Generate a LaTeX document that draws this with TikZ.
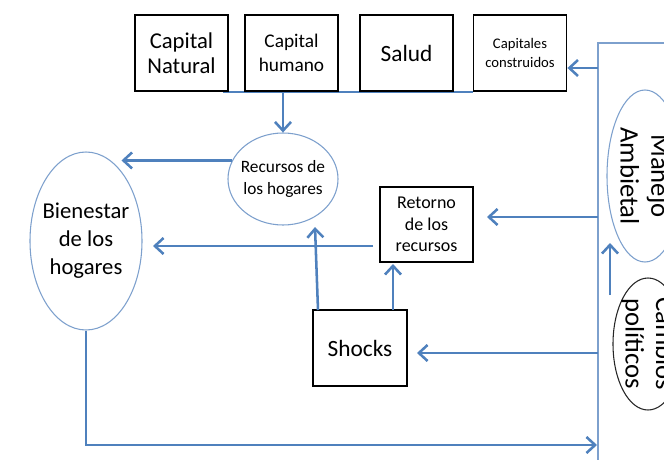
\documentclass[tikz,border=0pt]{standalone}
\usepackage{fontspec}
\setmainfont{Carlito}
\usetikzlibrary{arrows.meta,shapes.geometric}

\definecolor{lineblue}{RGB}{79,129,189}
\definecolor{paleblue}{RGB}{125,160,205}

\tikzset{
  capbox/.style={draw=black, line width=1.4pt, fill=white, minimum width=69.75pt, minimum height=57pt, align=center, inner sep=1pt},
  blueell/.style={ellipse, draw=paleblue, line width=0.8pt, inner sep=0pt},
  blackell/.style={ellipse, draw=black!85, line width=0.8pt, inner sep=0pt},
  lbl/.style={align=center, inner sep=0pt},
  arr/.style={draw=lineblue, line width=1.9pt, -{Straight Barb[length=6.5pt,width=12pt]}},
  link/.style={draw=lineblue, line width=1.9pt},
  rail/.style={draw=paleblue, line width=1.2pt},
}

\begin{document}
\begin{tikzpicture}[x=0.75pt,y=0.75pt,yscale=-1,xscale=1]
\clip (0,0) rectangle (664,460);
\fill[white] (0,0) rectangle (664,460);

%Free ends of the connectors
\coordinate (rail-top) at (598,43);
\coordinate (rail-end) at (664,43);
\coordinate (rail-bot) at (598,460);
\coordinate (rail-cap) at (598,68);
\coordinate (rail-ret) at (598,217);
\coordinate (rail-sho) at (598,353);
\coordinate (ret-in) at (487,217);
\coordinate (sho-in) at (417,353);
\coordinate (bot-in) at (597,445);
\coordinate (base-l) at (223,92);
\coordinate (base-r) at (473,92);
\coordinate (ret-out) at (373,246);
\coordinate (bien-in) at (153,246);
\coordinate (sho-a) at (318,310);
\coordinate (rec-in) at (315,227);
\coordinate (sho-b) at (393,310);
\coordinate (ret-bot) at (393,264);
\coordinate (up-s) at (610,295);
\coordinate (up-e) at (610,243);

%Rail on the right
\draw[rail] (rail-end) -- (rail-top) -- (rail-bot);
%Line under the capitals
\draw[link] (base-l) -- (base-r);

%Capitals
\node[capbox, font=\fontsize{17}{19}\selectfont] (natcap) at (181.5,53) {Capital\\Natural};
\node[capbox, font=\fontsize{14.5}{18}\selectfont] (humcap) at (291.5,53) {Capital\\humano};
\node[capbox, font=\fontsize{17.5}{20}\selectfont] (salud) at (406.5,53) {Salud};
\node[capbox, font=\fontsize{11}{14.5}\selectfont] (construidos) at (520,53) {Capitales\\construidos};

%Households
\node[blueell, minimum width=82.5pt, minimum height=69pt] (recursos) at (283,179) {};
\node[lbl, font=\fontsize{13}{16.5}\selectfont] (recursos-txt) at (recursos) {Recursos de\\los hogares};
\node[blueell, minimum width=84pt, minimum height=133.5pt] (bienestar) at (86,241) {};
\node[lbl, font=\fontsize{17}{21}\selectfont] (bienestar-txt) at (bienestar) {Bienestar\\de los\\hogares};

%Returns and shocks
\node[capbox, minimum height=56pt, font=\fontsize{13.5}{16}\selectfont] (retorno) at (426.5,224.5) {Retorno\\de los\\recursos};
\node[capbox, minimum width=70.5pt, font=\fontsize{17.5}{20}\selectfont] (shocks) at (360,348) {Shocks};

%Drivers on the right
\node[blueell, minimum width=57pt, minimum height=129pt] (manejo) at (645,176) {};
\node[lbl, rotate=-90, font=\fontsize{20}{23}\selectfont] (manejo-txt) at (manejo) {Manejo\\Ambietal};
\node[blackell, minimum width=52.5pt, minimum height=99pt] (cambios) at (648,344) {};
\node[lbl, rotate=-90, font=\fontsize{20}{23}\selectfont] (cambios-txt) at (cambios) {Cambios\\políticos};

%Connectors
\draw[arr] (recursos.north |- base-l) -- (recursos.north);
\draw[arr] (recursos.160) -- (recursos.160 -| bienestar.63);
\draw[arr] (ret-out) -- (bien-in);
\draw[arr] (sho-a) -- (rec-in);
\draw[arr] (sho-b) -- (ret-bot);
\draw[arr] (rail-cap) -- (rail-cap -| construidos.east);
\draw[arr] (rail-ret) -- (ret-in);
\draw[arr] (rail-sho) -- (sho-in);
\draw[arr] (up-s) -- (up-e);
\draw[arr] (bienestar.south) |- (bot-in);
\end{tikzpicture}
\end{document}
